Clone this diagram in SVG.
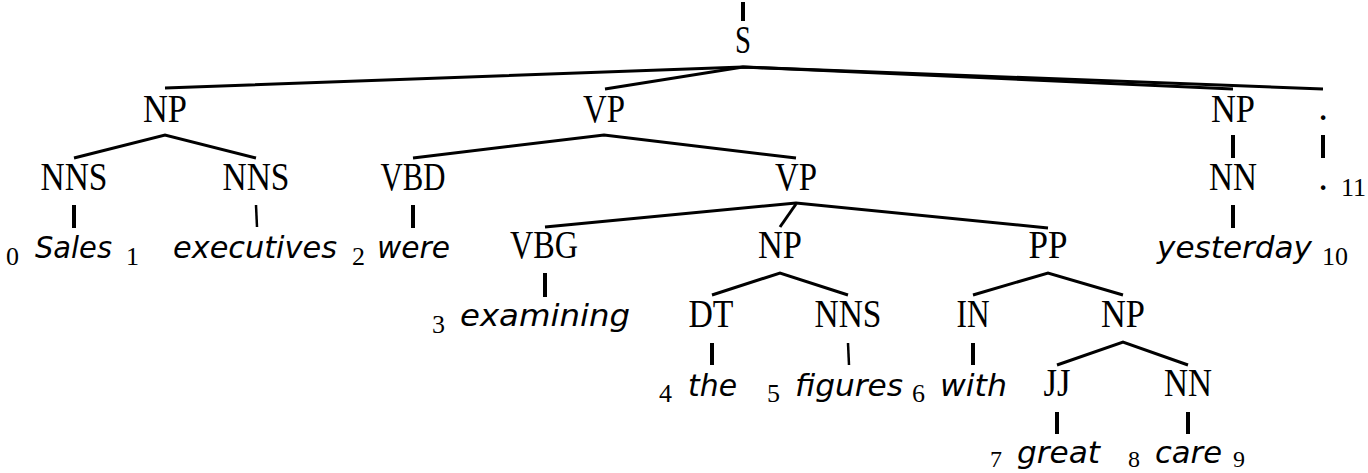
<svg xmlns="http://www.w3.org/2000/svg" width="1368" height="473" viewBox="0 0 1368 473">
<style>
.lab{font-family:"Liberation Serif","Times New Roman",serif;font-size:39px;fill:#000;text-anchor:middle}
.w{font-family:"DejaVu Sans","Verdana",sans-serif;font-style:italic;font-size:30px;fill:#000}
.ix{font-family:"Liberation Serif","Times New Roman",serif;font-size:26px;fill:#000}
.ixb{font-family:"Liberation Serif","Times New Roman",serif;font-size:24px;fill:#000}
.br{stroke:#000;stroke-width:3;fill:none;stroke-linecap:butt;stroke-linejoin:miter}
.tk{stroke:#000;stroke-width:4;fill:none}
.tn{stroke:#000;stroke-width:2.5;fill:none}
</style>
<rect width="1368" height="473" fill="#fff"/>
<g id="connectors">
<line class="tk" x1="743" y1="2" x2="743" y2="21"/>
<polyline class="br" points="165,88 743,67 1233,89"/>
<polyline class="br" points="605,89 743,67 1323,89"/>
<polyline class="br" points="74,158 165,135 256,158"/>
<polyline class="br" points="413,158 604,135 796,158"/>
<line class="tk" x1="1233" y1="135" x2="1233" y2="158"/>
<line class="tk" x1="1323" y1="135" x2="1323" y2="158"/>
<line class="tk" x1="74" y1="205" x2="74" y2="228"/>
<line class="tn" x1="256" y1="205" x2="257" y2="227"/>
<line class="tk" x1="413" y1="205" x2="413" y2="228"/>
<line class="tk" x1="1233" y1="205" x2="1233" y2="228"/>
<polyline class="br" points="545,227 796,203 1048,228"/>
<line class="br" x1="796" y1="204" x2="780" y2="227"/>
<line class="tk" x1="545" y1="273" x2="545" y2="297"/>
<polyline class="br" points="712,295 780,273 848,295"/>
<polyline class="br" points="973,295 1048,273 1123,295"/>
<line class="tk" x1="712" y1="343" x2="712" y2="365"/>
<line class="tn" x1="848" y1="343" x2="849" y2="365"/>
<line class="tk" x1="973" y1="343" x2="973" y2="365"/>
<polyline class="br" points="1057,365 1123,342 1188,365"/>
<line class="tk" x1="1057" y1="412" x2="1057" y2="434"/>
<line class="tk" x1="1188" y1="412" x2="1188" y2="434"/>
</g>
<g id="n-S"><text class="lab" x="743" y="53" textLength="16" lengthAdjust="spacingAndGlyphs">S</text></g>
<g id="n-NP1"><text class="lab" x="165" y="122" textLength="44" lengthAdjust="spacingAndGlyphs">NP</text></g>
<g id="n-VP1"><text class="lab" x="604" y="122" textLength="42" lengthAdjust="spacingAndGlyphs">VP</text></g>
<g id="n-NP2"><text class="lab" x="1233" y="122" textLength="44" lengthAdjust="spacingAndGlyphs">NP</text></g>
<g id="n-punct"><text class="lab" x="1323" y="120">.</text></g>
<g id="n-NNS1"><text class="lab" x="74" y="190" textLength="67" lengthAdjust="spacingAndGlyphs">NNS</text></g>
<g id="n-NNS2"><text class="lab" x="256" y="190" textLength="67" lengthAdjust="spacingAndGlyphs">NNS</text></g>
<g id="n-VBD"><text class="lab" x="413" y="190" textLength="65" lengthAdjust="spacingAndGlyphs">VBD</text></g>
<g id="n-VP2"><text class="lab" x="796" y="190" textLength="42" lengthAdjust="spacingAndGlyphs">VP</text></g>
<g id="n-NN1"><text class="lab" x="1233" y="190" textLength="48" lengthAdjust="spacingAndGlyphs">NN</text></g>
<g id="n-punct-w"><text class="lab" x="1323" y="190">.</text><text class="ix" x="1341" y="196">11</text></g>
<g id="n-VBG"><text class="lab" x="544" y="258" textLength="68" lengthAdjust="spacingAndGlyphs">VBG</text></g>
<g id="n-NP3"><text class="lab" x="780" y="258" textLength="44" lengthAdjust="spacingAndGlyphs">NP</text></g>
<g id="n-PP"><text class="lab" x="1048" y="258" textLength="39" lengthAdjust="spacingAndGlyphs">PP</text></g>
<g id="n-DT"><text class="lab" x="711" y="327" textLength="45" lengthAdjust="spacingAndGlyphs">DT</text></g>
<g id="n-NNS3"><text class="lab" x="848" y="327" textLength="67" lengthAdjust="spacingAndGlyphs">NNS</text></g>
<g id="n-IN"><text class="lab" x="973" y="327" textLength="33" lengthAdjust="spacingAndGlyphs">IN</text></g>
<g id="n-NP4"><text class="lab" x="1123" y="327" textLength="44" lengthAdjust="spacingAndGlyphs">NP</text></g>
<g id="n-JJ"><text class="lab" x="1057" y="396" textLength="27" lengthAdjust="spacingAndGlyphs">JJ</text></g>
<g id="n-NN2"><text class="lab" x="1188" y="396" textLength="48" lengthAdjust="spacingAndGlyphs">NN</text></g>
<g id="w-Sales"><text class="ix" x="6" y="265">0</text><text class="w" x="35" y="258" textLength="77" lengthAdjust="spacingAndGlyphs">Sales</text><text class="ix" x="126" y="265">1</text></g>
<g id="w-executives"><text class="w" x="173" y="258" textLength="164" lengthAdjust="spacingAndGlyphs">executives</text><text class="ix" x="352" y="265">2</text></g>
<g id="w-were"><text class="w" x="377" y="258" textLength="73" lengthAdjust="spacingAndGlyphs">were</text></g>
<g id="w-examining"><text class="ix" x="432" y="333">3</text><text class="w" x="460" y="326" textLength="170" lengthAdjust="spacingAndGlyphs">examining</text></g>
<g id="w-the"><text class="ix" x="659" y="402">4</text><text class="w" x="688" y="396" textLength="49" lengthAdjust="spacingAndGlyphs">the</text></g>
<g id="w-figures"><text class="ix" x="767" y="402">5</text><text class="w" x="795" y="396" textLength="108" lengthAdjust="spacingAndGlyphs">figures</text></g>
<g id="w-with"><text class="ix" x="912" y="402">6</text><text class="w" x="940" y="396" textLength="67" lengthAdjust="spacingAndGlyphs">with</text></g>
<g id="w-great"><text class="ixb" x="990" y="467">7</text><text class="w" x="1017" y="463" textLength="83" lengthAdjust="spacingAndGlyphs">great</text></g>
<g id="w-care"><text class="ixb" x="1128" y="467">8</text><text class="w" x="1155" y="463" textLength="67" lengthAdjust="spacingAndGlyphs">care</text><text class="ixb" x="1233" y="467">9</text></g>
<g id="w-yesterday"><text class="w" x="1157" y="258" textLength="155" lengthAdjust="spacingAndGlyphs">yesterday</text><text class="ix" x="1322" y="265">10</text></g>
</svg>
